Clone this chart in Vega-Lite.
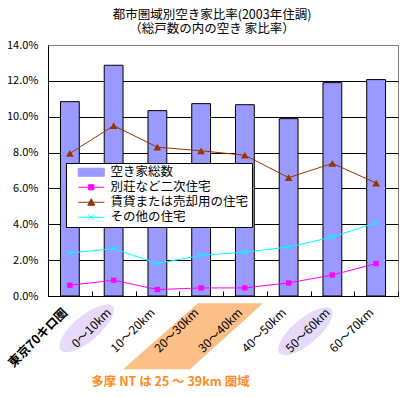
{
  "$schema": "https://vega.github.io/schema/vega-lite/v6.json",
  "width": 350,
  "height": 251,
  "autosize": {"type": "none"},
  "padding": {"left": 48, "top": 45, "right": 12, "bottom": 101},
  "background": "white",
  "config": {"font": "Noto Sans CJK JP", "view": {"stroke": "#808080", "strokeWidth": 1}},
  "title": {
    "text": ["都市圏域別空き家比率(2003年住調)", "（総戸数の内の空き 家比率）"],
    "fontSize": 12.5, "fontWeight": "normal", "color": "black",
    "anchor": "middle", "frame": "group", "dx": -11, "offset": 4, "lineHeight": 14
  },
  "datasets": {
    "main": [
      {"cat": "東京70キロ圏", "series": "空き家総数", "v": 0.1084},
      {"cat": "0～10km", "series": "空き家総数", "v": 0.1287},
      {"cat": "10～20km", "series": "空き家総数", "v": 0.1034},
      {"cat": "20～30km", "series": "空き家総数", "v": 0.1073},
      {"cat": "30～40km", "series": "空き家総数", "v": 0.1067},
      {"cat": "40～50km", "series": "空き家総数", "v": 0.0989},
      {"cat": "50～60km", "series": "空き家総数", "v": 0.1190},
      {"cat": "60～70km", "series": "空き家総数", "v": 0.1207},
      {"cat": "東京70キロ圏", "series": "別荘など二次住宅", "v": 0.0060},
      {"cat": "0～10km", "series": "別荘など二次住宅", "v": 0.0088},
      {"cat": "10～20km", "series": "別荘など二次住宅", "v": 0.0036},
      {"cat": "20～30km", "series": "別荘など二次住宅", "v": 0.0045},
      {"cat": "30～40km", "series": "別荘など二次住宅", "v": 0.0045},
      {"cat": "40～50km", "series": "別荘など二次住宅", "v": 0.0073},
      {"cat": "50～60km", "series": "別荘など二次住宅", "v": 0.0117},
      {"cat": "60～70km", "series": "別荘など二次住宅", "v": 0.0181},
      {"cat": "東京70キロ圏", "series": "賃貸または売却用の住宅", "v": 0.0795},
      {"cat": "0～10km", "series": "賃貸または売却用の住宅", "v": 0.0950},
      {"cat": "10～20km", "series": "賃貸または売却用の住宅", "v": 0.0830},
      {"cat": "20～30km", "series": "賃貸または売却用の住宅", "v": 0.0810},
      {"cat": "30～40km", "series": "賃貸または売却用の住宅", "v": 0.0785},
      {"cat": "40～50km", "series": "賃貸または売却用の住宅", "v": 0.0660},
      {"cat": "50～60km", "series": "賃貸または売却用の住宅", "v": 0.0740},
      {"cat": "60～70km", "series": "賃貸または売却用の住宅", "v": 0.0630},
      {"cat": "東京70キロ圏", "series": "その他の住宅", "v": 0.0240},
      {"cat": "0～10km", "series": "その他の住宅", "v": 0.0264},
      {"cat": "10～20km", "series": "その他の住宅", "v": 0.0181},
      {"cat": "20～30km", "series": "その他の住宅", "v": 0.0227},
      {"cat": "30～40km", "series": "その他の住宅", "v": 0.0245},
      {"cat": "40～50km", "series": "その他の住宅", "v": 0.0273},
      {"cat": "50～60km", "series": "その他の住宅", "v": 0.0329},
      {"cat": "60～70km", "series": "その他の住宅", "v": 0.0409}
    ],
    "deco": [
      {"cat": "0～10km", "v": -0.0180, "kind": "ellipse"},
      {"cat": "50～60km", "v": -0.0197, "kind": "ellipse"},
      {"cat": "20～30km", "v": -0.0225, "kind": "band"}
    ]
  },
  "encoding": {
    "x": {
      "field": "cat", "type": "nominal",
      "sort": ["東京70キロ圏", "0～10km", "10～20km", "20～30km", "30～40km", "40～50km", "50～60km", "60～70km"],
      "scale": {"paddingInner": 0, "paddingOuter": 0},
      "axis": {
        "title": "多摩 NT は 25 ～ 39km 圏域",
        "titleColor": "#ff8c21", "titleFontSize": 12.5, "titleFontWeight": "bold",
        "titleX": 122, "titleY": 85, "titleAlign": "center", "titleBaseline": "middle",
        "labelAngle": -45, "labelAlign": "right", "labelBaseline": "middle",
        "labelPadding": 19, "labelOffset": -5,
        "labelFontSize": {"condition": {"test": "datum.value === '東京70キロ圏'", "value": 12.5}, "value": 12},
        "labelFontWeight": {"condition": {"test": "datum.value === '東京70キロ圏'", "value": "bold"}, "value": "normal"},
        "labelColor": "black", "labelOverlap": false, "labelBound": false, "labelLimit": 0,
        "tickBand": "extent", "ticks": true, "tickSize": -5, "tickColor": "black",
        "domainColor": "black", "grid": false, "zindex": 1
      }
    },
    "y": {
      "field": "v", "type": "quantitative",
      "scale": {"domain": [0, 0.14], "nice": false, "zero": true},
      "axis": {
        "title": null, "format": ".1%",
        "values": [0, 0.02, 0.04, 0.06, 0.08, 0.1, 0.12, 0.14],
        "grid": true,
        "gridColor": {"condition": {"test": "datum.value >= 0.139", "value": "#808080"}, "value": "black"},
        "ticks": false, "domainColor": "black", "labelPadding": 10,
        "labelFontSize": 11, "labelColor": "black", "zindex": 0
      }
    }
  },
  "layer": [
    {
      "data": {"name": "deco"},
      "transform": [{"filter": "datum.kind === 'band'"}],
      "mark": {"type": "point", "shape": "M-3.1,-33L61.9,-33L-11.1,33L-78.1,33Z", "size": 4, "filled": true, "fill": "#fbbf87", "strokeWidth": 0, "opacity": 1}
    },
    {
      "data": {"name": "deco"},
      "transform": [{"filter": "datum.kind === 'ellipse'"}],
      "mark": {"type": "point", "shape": "M-53,21.9A34,13,-40,0,1,-1,-21.9A34,13,-40,0,1,-53,21.9Z", "size": 4, "filled": true, "fill": "#e6d9fa", "strokeWidth": 0, "opacity": 1}
    },
    {
      "data": {"name": "main"},
      "transform": [{"filter": "datum.series === '空き家総数'"}],
      "mark": {"type": "bar", "width": {"band": 0.43}, "stroke": "black", "strokeWidth": 1},
      "encoding": {
        "color": {
          "field": "series", "type": "nominal",
          "scale": {
            "domain": ["空き家総数", "別荘など二次住宅", "賃貸または売却用の住宅", "その他の住宅"],
            "range": ["#9999ff", "#ff00ff", "#993300", "#00ffff"]
          },
          "legend": {
            "orient": "none", "legendX": 18, "legendY": 118, "title": null,
            "fillColor": "white", "strokeColor": "black", "padding": 3,
            "labelFontSize": 12.5, "labelColor": "black", "labelLimit": 0,
            "symbolSize": 4, "symbolOffset": 16, "labelOffset": 13, "rowPadding": 2,
            "symbolStrokeWidth": 1,
            "symbolType": {"expr": "datum.value === '空き家総数' ? 'M-13,-4H13V4H-13Z' : datum.value === '別荘など二次住宅' ? 'M-13,0H13M-2.6,-2.6H2.6V2.6H-2.6Z' : datum.value === '賃貸または売却用の住宅' ? 'M-13,0H13M0,-3.5L3.5,3H-3.5Z' : 'M-13,0H13M-3,-3L3,3M-3,3L3,-3'"},
            "encode": {
              "symbols": {
                "fill": {
                  "condition": [
                    {"test": "datum.value === '空き家総数'", "value": "#9999ff"},
                    {"test": "datum.value === '別荘など二次住宅'", "value": "#ff00ff"},
                    {"test": "datum.value === '賃貸または売却用の住宅'", "value": "#993300"}
                  ],
                  "value": "#00ffff"
                },
                "stroke": {
                  "condition": [
                    {"test": "datum.value === '空き家総数'", "value": "black"},
                    {"test": "datum.value === '別荘など二次住宅'", "value": "#ff00ff"},
                    {"test": "datum.value === '賃貸または売却用の住宅'", "value": "#993300"}
                  ],
                  "value": "#00ffff"
                },
                "strokeWidth": {"value": 1},
                "opacity": {"value": 1}
              }
            }
          }
        }
      }
    },
    {
      "data": {"name": "main"},
      "transform": [{"filter": "datum.series !== '空き家総数'"}],
      "mark": {"type": "line", "strokeWidth": 1},
      "encoding": {
        "color": {"field": "series", "type": "nominal", "legend": null}
      }
    },
    {
      "data": {"name": "main"},
      "transform": [{"filter": "datum.series === '別荘など二次住宅'"}],
      "mark": {"type": "point", "shape": "square", "size": 28, "filled": true, "opacity": 1, "color": "#ff00ff"}
    },
    {
      "data": {"name": "main"},
      "transform": [{"filter": "datum.series === '賃貸または売却用の住宅'"}],
      "mark": {"type": "point", "shape": "triangle-up", "size": 60, "filled": true, "opacity": 1, "color": "#993300"}
    },
    {
      "data": {"name": "main"},
      "transform": [{"filter": "datum.series === 'その他の住宅'"}],
      "mark": {"type": "point", "shape": "M-1,-1L1,1M-1,1L1,-1", "size": 36, "filled": false, "opacity": 1, "stroke": "#00ffff", "strokeWidth": 1}
    }
  ]
}
